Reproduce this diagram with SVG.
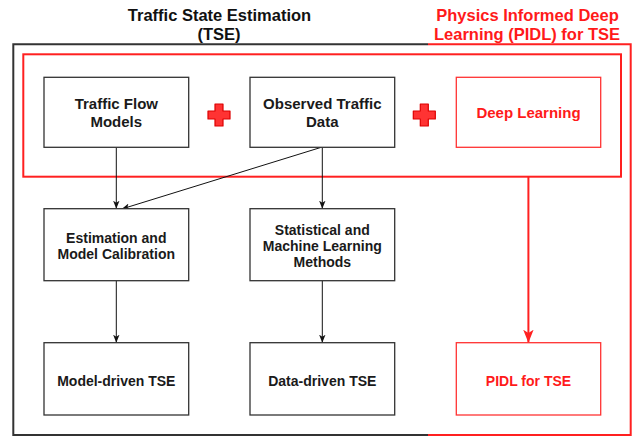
<svg xmlns="http://www.w3.org/2000/svg" width="639" height="437" viewBox="0 0 639 437">
<style>
text{font-family:"Liberation Sans",Arial,sans-serif;font-weight:bold;text-anchor:middle}
.t{font-size:16.5px;fill:#111}
.tr{font-size:16.5px;fill:#ff1a1a}
.n1{font-size:15px;fill:#1a1a1a}
.n2{font-size:14px;fill:#1a1a1a}
.r1{font-size:15px;fill:#ff1a1a}
.r2{font-size:14px;fill:#ff1a1a}
.box{fill:#fff;stroke:#333;stroke-width:1.3}
.rbox{fill:#fff;stroke:#ff3333;stroke-width:1.3}
.c{fill:none;stroke:#111;stroke-width:1}
.cr{fill:none;stroke:#ff2020;stroke-width:2}
.plus{fill:#ff3333;stroke:#dd0000;stroke-width:1.2;stroke-linejoin:round}
</style>
<defs>
<marker id="ab" viewBox="0 0 10 10" refX="10" refY="5" markerWidth="8" markerHeight="8" markerUnits="userSpaceOnUse" orient="auto"><path d="M0,1 L10,5 L0,9 L2.5,5 z" fill="#111"/></marker>
<marker id="ar" viewBox="0 0 10 10" refX="10" refY="5" markerWidth="13" markerHeight="13" markerUnits="userSpaceOnUse" orient="auto"><path d="M0,1 L10,5 L0,9 L2.5,5 z" fill="#ff2020"/></marker>
</defs>
<g id="titles">
<text class="t" x="219.5" y="21">Traffic State Estimation</text>
<text class="t" x="219" y="40">(TSE)</text>
<text class="tr" x="527.5" y="21">Physics Informed Deep</text>
<text class="tr" x="527" y="40">Learning (PIDL) for TSE</text>
</g>
<g id="frames">
<path d="M428,44.3 H13.3 V435 H428" fill="none" stroke="#333" stroke-width="2"/>
<path d="M428,44.3 H630.7 V435 H428" fill="none" stroke="#ff2020" stroke-width="2"/>
<rect x="23.3" y="54.3" width="597.7" height="122.4" fill="none" stroke="#ff2020" stroke-width="2"/>
</g>
<g id="connectors">
<line class="c" x1="116.3" y1="147.3" x2="116.3" y2="208.7" marker-end="url(#ab)"/>
<line class="c" x1="321.3" y1="147.3" x2="121.7" y2="209" marker-end="url(#ab)"/>
<line class="c" x1="322.3" y1="147.3" x2="322.3" y2="208.7" marker-end="url(#ab)"/>
<line class="c" x1="116.3" y1="280.7" x2="116.3" y2="342.7" marker-end="url(#ab)"/>
<line class="c" x1="322.3" y1="280.7" x2="322.3" y2="342.7" marker-end="url(#ab)"/>
<line class="cr" x1="528.4" y1="176.7" x2="528.4" y2="342.7" marker-end="url(#ar)"/>
</g>
<g id="traffic-flow-models">
<rect class="box" x="44" y="77.3" width="144.7" height="70"/>
<text class="n1" x="116.3" y="109">Traffic Flow</text>
<text class="n1" x="116.3" y="127.3">Models</text>
</g>
<g id="plus1">
<path class="plus" d="M215,104 H223 V111 H230 V119 H223 V126 H215 V119 H208 V111 H215 Z"/>
</g>
<g id="observed-traffic-data">
<rect class="box" x="250" y="77.3" width="144.7" height="70"/>
<text class="n1" x="322.3" y="109">Observed Traffic</text>
<text class="n1" x="322.3" y="127.3">Data</text>
</g>
<g id="plus2">
<path class="plus" d="M420.3,104 H428.3 V111 H435.3 V119 H428.3 V126 H420.3 V119 H413.3 V111 H420.3 Z"/>
</g>
<g id="deep-learning">
<rect class="rbox" x="456.3" y="77.3" width="144.4" height="70"/>
<text class="r1" x="528.5" y="118.3">Deep Learning</text>
</g>
<g id="estimation">
<rect class="box" x="44" y="208.7" width="144.7" height="72"/>
<text class="n2" x="116.3" y="243.3">Estimation and</text>
<text class="n2" x="116.3" y="259.3">Model Calibration</text>
</g>
<g id="statistical-ml">
<rect class="box" x="250" y="208.7" width="144.7" height="72"/>
<text class="n2" x="322.3" y="235">Statistical and</text>
<text class="n2" x="322.3" y="251">Machine Learning</text>
<text class="n2" x="322.3" y="266.7">Methods</text>
</g>
<g id="model-driven-tse">
<rect class="box" x="44" y="342.7" width="144.7" height="72.3"/>
<text class="n2" x="116.3" y="385.7">Model-driven TSE</text>
</g>
<g id="data-driven-tse">
<rect class="box" x="250" y="342.7" width="144.7" height="72.3"/>
<text class="n2" x="322.3" y="385.7">Data-driven TSE</text>
</g>
<g id="pidl-for-tse">
<rect class="rbox" x="456.3" y="342.7" width="144.4" height="72.3"/>
<text class="r2" x="528.5" y="385.7">PIDL for TSE</text>
</g>
</svg>
